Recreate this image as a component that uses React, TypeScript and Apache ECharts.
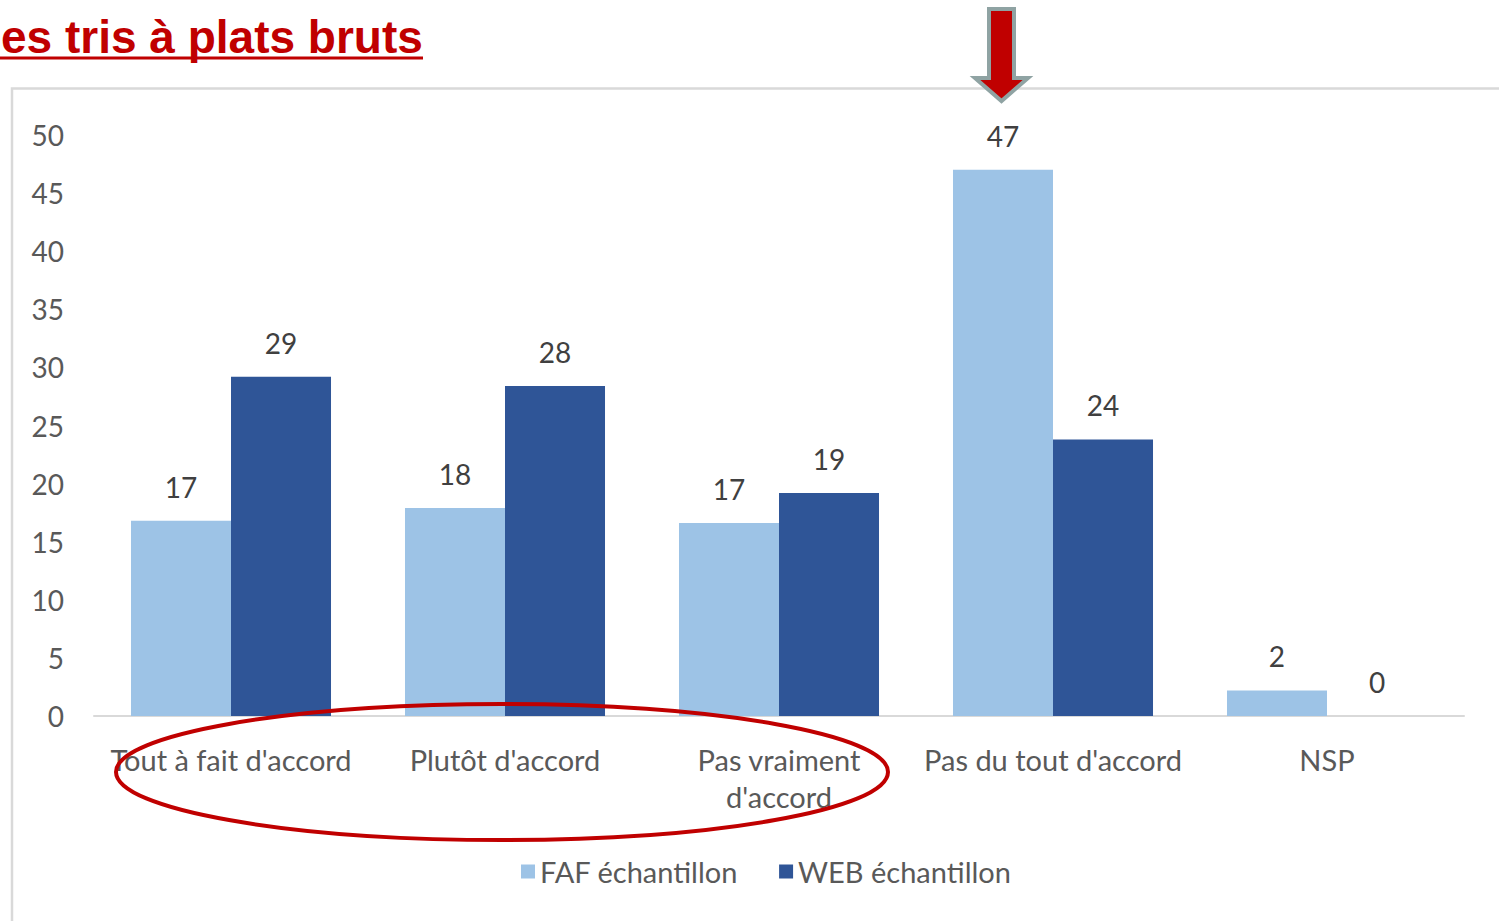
import React, { useEffect, useRef } from "react";
import * as echarts from "echarts";

const categories = [
  "Tout à fait d'accord",
  "Plutôt d'accord",
  "Pas vraiment d'accord",
  "Pas du tout d'accord",
  "NSP",
];
const seriesNames = ["FAF échantillon", "WEB échantillon"];
const fafValues = [16.8, 17.9, 16.6, 47.0, 2.2];
const webValues = [29.2, 28.4, 19.2, 23.8, 0];
const yMin = 0;
const yMax = 50;
const yInterval = 5;
const titleText = "es tris à plats bruts";

const TEXT_FONT = "Lato";
const LABEL_COLOR = "#595959";

function wrapLabel(v: string): string {
  if (v.length > 20) {
    const i = v.lastIndexOf(" ");
    return v.slice(0, i) + "\n" + v.slice(i + 1);
  }
  return v;
}

export default function App() {
  const ref = useRef<HTMLDivElement>(null);
  useEffect(() => {
    if (!ref.current) return;
    const chart = echarts.init(ref.current, null, { renderer: "svg" });
    const labelStyle = {
      show: true,
      position: "top" as const,
      distance: 20,
      fontFamily: TEXT_FONT,
      fontSize: 28,
      color: "#404040",
      formatter: (p: any) => String(Math.round(p.value)),
    };
    chart.setOption({
      animation: false,
      backgroundColor: "#ffffff",
      grid: {
        left: 94,
        right: 35,
        top: 135,
        bottom: 205,
        containLabel: false,
        outerBoundsMode: "none",
      },
      legend: {
        left: 521,
        top: 857,
        padding: 0,
        icon: "rect",
        itemWidth: 14,
        itemHeight: 14,
        itemGap: 41,
        textStyle: { fontFamily: TEXT_FONT, fontSize: 29, color: LABEL_COLOR },
        data: seriesNames,
      },
      xAxis: {
        type: "category",
        data: categories,
        axisLine: { show: true, lineStyle: { color: "#d9d9d9", width: 2 } },
        axisTick: { show: false },
        axisLabel: {
          interval: 0,
          margin: 25,
          fontFamily: TEXT_FONT,
          fontSize: 29,
          lineHeight: 37,
          color: LABEL_COLOR,
          formatter: (v: string) => wrapLabel(v),
        },
      },
      yAxis: {
        type: "value",
        min: yMin,
        max: yMax,
        interval: yInterval,
        axisLine: { show: false },
        axisTick: { show: false },
        splitLine: { show: false },
        axisLabel: {
          margin: 30,
          fontFamily: TEXT_FONT,
          fontSize: 28,
          color: LABEL_COLOR,
        },
      },
      series: [
        {
          name: seriesNames[0],
          type: "bar",
          data: fafValues,
          barGap: "0%",
          barCategoryGap: "27%",
          itemStyle: { color: "#9DC3E6" },
          label: labelStyle,
        },
        {
          name: seriesNames[1],
          type: "bar",
          data: webValues,
          barGap: "0%",
          barCategoryGap: "27%",
          itemStyle: { color: "#2F5597" },
          label: labelStyle,
        },
      ],
      graphic: [
        {
          type: "rect",
          shape: { x: 12, y: 88.5, width: 1700, height: 1000 },
          style: { fill: "none", stroke: "#d9d9d9", lineWidth: 2.5 },
          silent: true,
          z: 0,
        },
        {
          type: "text",
          x: 1,
          y: 37,
          style: {
            text: titleText,
            fontFamily: "Liberation Sans, Arial, sans-serif",
            fontWeight: "bold",
            fontSize: 46,
            fill: "#C00000",
            verticalAlign: "middle",
            align: "left",
          },
          z: 10,
        },
        {
          type: "rect",
          shape: { x: 0, y: 56.5, width: 423, height: 3 },
          style: { fill: "#C00000" },
          z: 10,
        },
        {
          type: "polygon",
          shape: {
            points: [
              [989, 9],
              [1014, 9],
              [1014, 78],
              [1028, 78],
              [1001.5, 101],
              [975, 78],
              [989, 78],
            ],
          },
          style: { fill: "#C00000", stroke: "#8FA3A3", lineWidth: 4, lineJoin: "miter" },
          z: 10,
        },
        {
          type: "ellipse",
          shape: { cx: 502, cy: 772, rx: 386, ry: 68 },
          style: { fill: "none", stroke: "#C00000", lineWidth: 4 },
          z: 10,
        },
      ],
    });
    return () => chart.dispose();
  }, []);
  return (
    <div
      ref={ref}
      style={{ position: "fixed", left: 0, top: 0, width: 1499, height: 921 }}
    />
  );
}
